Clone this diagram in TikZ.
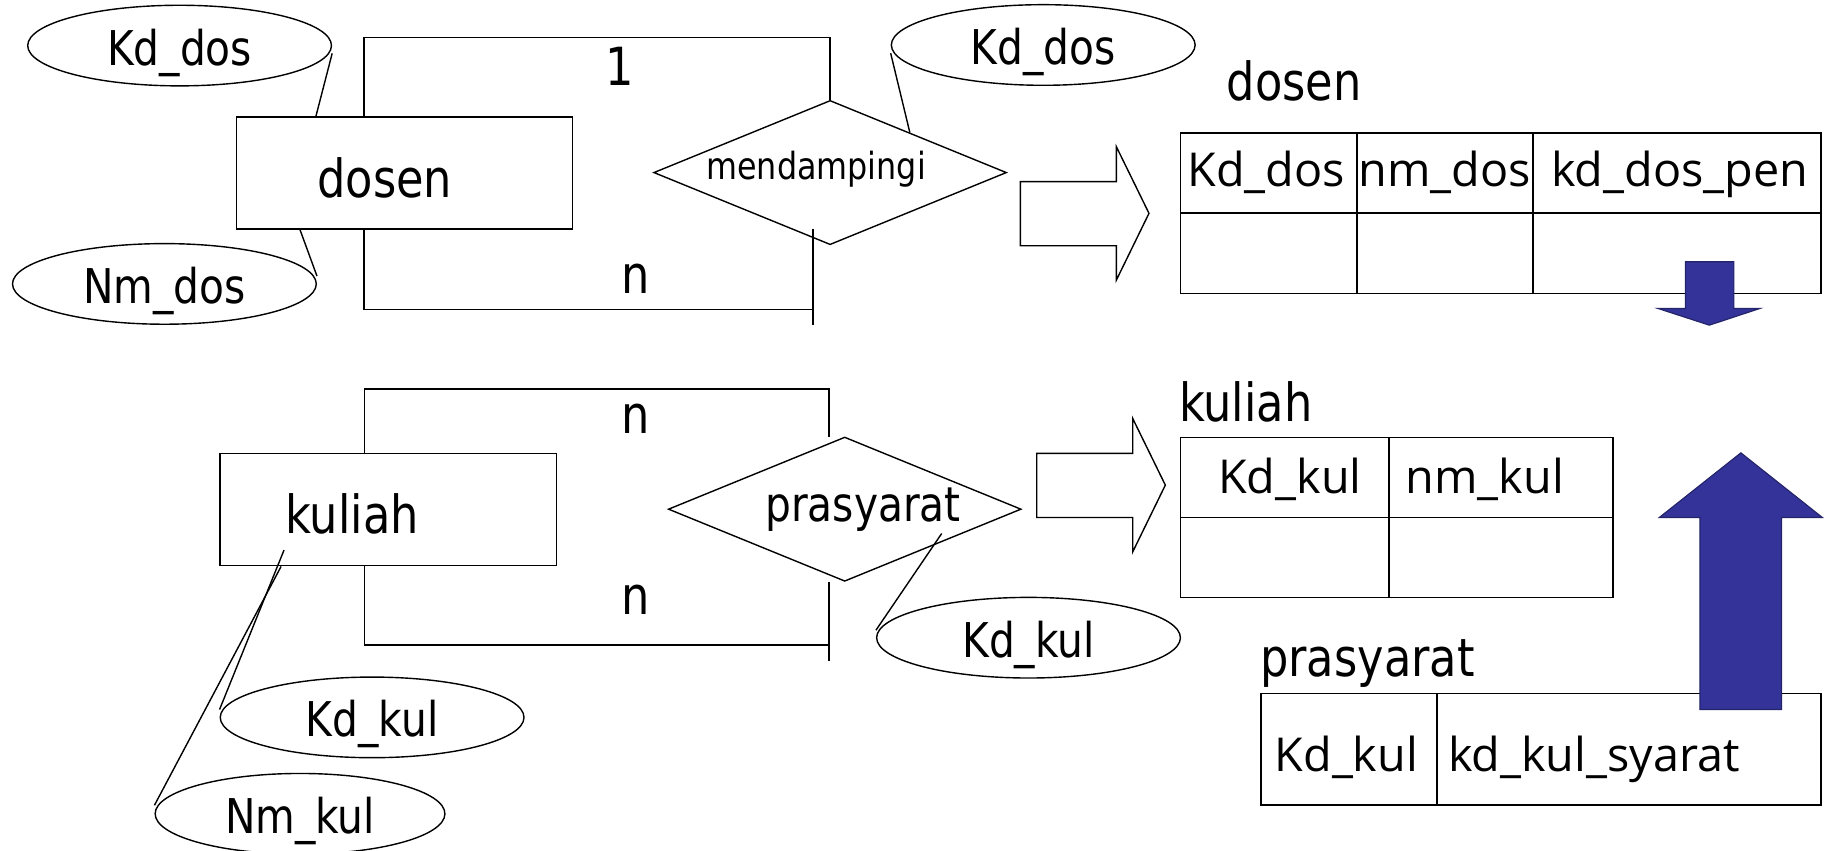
\documentclass[tikz,border=0pt]{standalone}
\usepackage{fontspec}
\newfontfamily\erfont{DejaVu Sans}[FakeStretch=0.85]
\newfontfamily\tblfont{Open Sans}
\definecolor{arrowblue}{HTML}{333399}
\usetikzlibrary{calc, shapes.geometric}

\begin{document}
\begin{tikzpicture}[x=1pt, y=-1pt, line width=1.2pt,
  entity/.style={draw, rectangle, minimum height=96pt, inner ysep=0pt, align=left,
    text height=41.5pt, text depth=0pt, font=\erfont\fontsize{45}{54}\selectfont},
  attr/.style={draw, ellipse, minimum width=260pt, minimum height=69pt, inner sep=0pt,
    text height=33.4pt, text depth=0pt, font=\erfont\fontsize{41}{49}\selectfont},
  rel/.style={draw, diamond, minimum width=302pt, minimum height=123.5pt, inner sep=0pt},
  reltext/.style={font=\erfont\fontsize{41}{49}\selectfont},
  card/.style={anchor=base, inner sep=0pt, font=\erfont\fontsize{45}{54}\selectfont},
  title/.style={anchor=base west, inner sep=0pt, font=\erfont\fontsize{45}{54}\selectfont},
  cell/.style={anchor=base, inner sep=0pt, font=\tblfont\fontsize{40}{48}\selectfont},
  tbl/.style={line width=1.5pt},
  bluearrow/.style={fill=arrowblue, draw=arrowblue!70!black, line width=1pt}]
  \useasboundingbox (0,0) rectangle (1568,728);

  % ER diagram
  \node[entity, inner xsep=69.5pt, text width=149pt] (dosen) at (346.2,148.1) {dosen};
  \node[entity, inner xsep=55.8pt, text width=176.4pt] (kuliah) at (332.4,436.2) {kuliah};
  \node[attr] (kddos) at (153.7,39) {Kd\_dos};
  \node[attr] (nmdos) at (140.7,243) {Nm\_dos};
  \node[attr] (kddos2) at (892.9,38.5) {Kd\_dos};
  \node[attr] (kdkul) at (318.5,614) {Kd\_kul};
  \node[attr, minimum width=248pt] (nmkul) at (256.8,696.5) {Nm\_kul};
  \node[attr] (kdsyarat) at (880.3,545.8) {Kd\_kul};
  \node[rel, label={[font=\erfont\fontsize{32}{38}\selectfont, xshift=-12pt, yshift=2.5pt]center:mendampingi}] (damping) at (710.5,147.7) {};
  \node[rel, label={[reltext, xshift=15.6pt]center:prasyarat}] (syarat) at (723,435.8) {};

  \draw ([yshift=-6.7pt]kddos.east) -- ([xshift=68.8pt]dosen.north west);
  \draw ([xshift=55.2pt]dosen.south west) -- ([yshift=6.7pt]nmdos.east);
  \draw ([yshift=-7pt]kddos2.west) -- ($(damping.north)!0.45!(damping.east)$);
  \draw ([xshift=55.3pt,yshift=14pt]kuliah.south west) -- ([yshift=6.7pt]kdkul.west);
  \draw ([xshift=52.8pt]kuliah.south west) -- ([yshift=7.3pt]nmkul.west);
  \coordinate (syaratin) at (806,456.6);
  \draw ([yshift=6.4pt]kdsyarat.west) -- (syaratin);

  % recursive relationships
  \draw ([xshift=110pt]dosen.north west) -- ++(0,-67.6) -| (damping.north);
  \coordinate (dtop) at (695.9,196.3);
  \coordinate (dbot) at (695.9,278);
  \draw (dtop) -- (dbot);
  \draw ([xshift=110pt]dosen.south west) |- ($(dtop)!0.84!(dbot)$);
  \coordinate (syarattop) at (709.4,373.9);
  \draw ([xshift=124.1pt]kuliah.north west) -- ++(0,-54.8) -| (syarattop);
  \coordinate (sa) at (709.4,498);
  \coordinate (sb) at (709.4,565.6);
  \draw (sa) -- (sb);
  \draw ([xshift=124.1pt]kuliah.south west) |- ($(sa)!0.8!(sb)$);
  \node[card] (one) at (530.5,72.8) {1};
  \node[card] (many1) at (544.3,251.1) {n};
  \node[card] (many2) at (544.3,370.7) {n};
  \node[card] (many3) at (544.3,526) {n};

  % mapping arrows
  \foreach \ox/\oy in {873.3/155.5, 887.3/388.1}
    \draw (\ox,\oy) -- ++(82.2,0) -- ++(0,-29.9) -- ++(27.9,57) -- ++(-27.9,57.1)
      -- ++(0,-29.4) -- ++(-82.2,0) -- cycle;

  % tables
  \node[title] (tdosen) at (1049.5,85.6) {dosen};
  \draw[tbl] (1010.3,114.1) rectangle (1558.6,251.1);
  \draw[tbl] (1010.3,182.6) -- (1558.6,182.6);
  \foreach \x in {1161.2,1312.2} \draw[tbl] (\x,114.1) -- (\x,251.1);
  \foreach \x/\t [count=\i] in {1083.7/Kd\_dos, 1236.4/nm\_dos, 1437.7/kd\_dos\_pen}
    \node[cell] (dcol\i) at (\x,159.8) {\t};

  \node[title] (tkuliah) at (1008.5,361) {kuliah};
  \draw[tbl] (1010.3,374.4) rectangle (1380.4,511.4);
  \draw[tbl] (1010.3,442.9) -- (1380.4,442.9);
  \draw[tbl] (1188.6,374.4) -- (1188.6,511.4);
  \foreach \x/\t [count=\i] in {1104/Kd\_kul, 1270.8/nm\_kul}
    \node[cell] (kcol\i) at (\x,422.4) {\t};

  \node[title] (tsyarat) at (1078,579.4) {prasyarat};
  \draw[tbl] (1079,593.6) rectangle (1558.6,689.2);
  \draw[tbl] (1230,593.6) -- (1230,689.2);
  \foreach \x/\t [count=\i] in {1152.3/Kd\_kul, 1364.2/kd\_kul\_syarat}
    \node[cell] (pcol\i) at (\x,660.7) {\t};

  % foreign keys
  \filldraw[bluearrow] (1442.6,224) -- (1484,224) -- (1484,264) -- (1506.3,264)
    -- (1463,278.3) -- (1419,264) -- (1442.6,264) -- cycle;
  \filldraw[bluearrow] (1455,607.3) -- (1455,442.9) -- (1420.2,442.9) -- (1490,387.6)
    -- (1559.7,442.9) -- (1524.8,442.9) -- (1524.8,607.3) -- cycle;
\end{tikzpicture}
\end{document}
